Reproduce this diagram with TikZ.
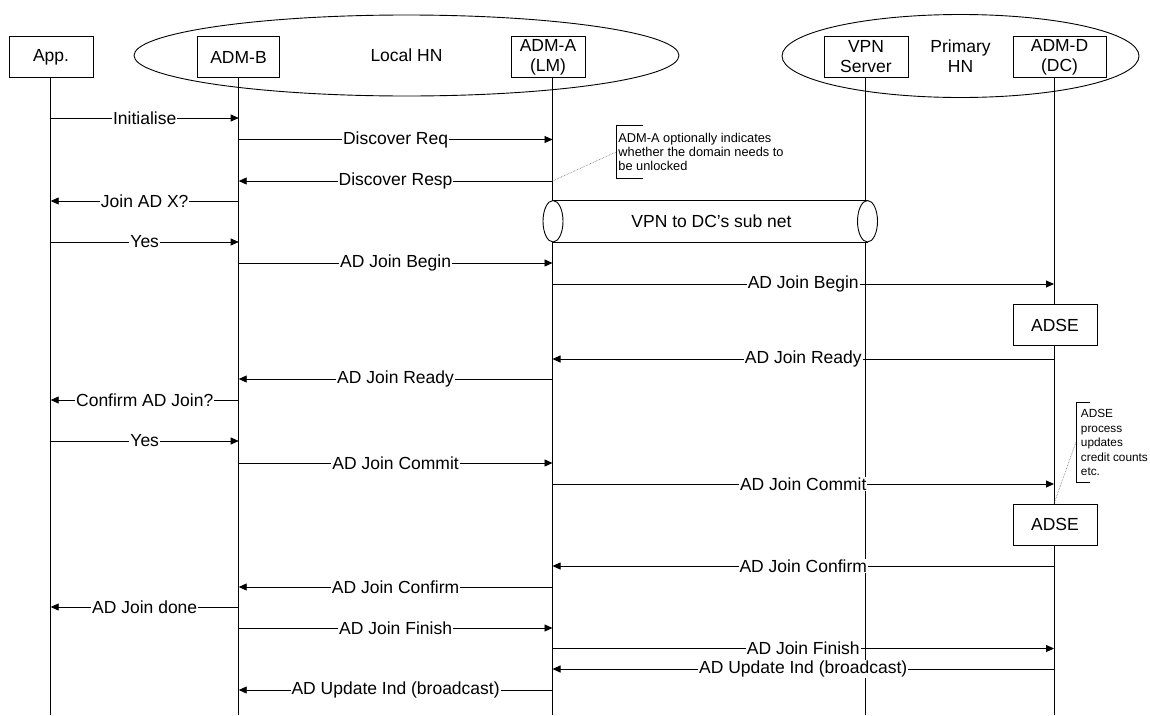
\documentclass[tikz,border=0pt]{standalone}
\usepackage{fontspec}
\setmainfont{Liberation Sans}
\usetikzlibrary{arrows.meta,shapes.geometric}
\newcommand\lblfont{\fontsize{17.5}{20}\selectfont}
\newcommand\notefont{\fontsize{12.8}{14}\selectfont}
\newcommand\notefontb{\fontsize{11.8}{14.5}\selectfont}
\begin{document}
\begin{tikzpicture}[x=1pt,y=-1pt, line width=0.9pt,
  every node/.style={font=\lblfont},
  actor/.style={draw, fill=white, inner sep=0pt, minimum height=41.5pt, align=center},
  group/.style={draw, ellipse, inner sep=0pt, align=center},
  msg/.style={-{Triangle[length=8pt,width=7pt]}},
  lbl/.style={fill=white, inner xsep=1pt, inner ysep=0.5pt},
  link/.style={densely dotted, black!60, line width=0.6pt},
  note/.style={font=\notefont, align=left, inner sep=0pt, anchor=north west}]
\useasboundingbox (0,0) rectangle (1150,715);
% groups
\node[group, minimum width=545pt, minimum height=81pt] (localhn) at (406.5,55.5) {Local HN};
\node[group, minimum width=357pt, minimum height=83pt] (primaryhn) at (960.5,56) {Primary\\HN};
% lifeline positions
\coordinate (xA) at (50.7,0);
\coordinate (xB) at (238.7,0);
\coordinate (xL) at (552.5,0);
\coordinate (xV) at (865.7,0);
\coordinate (xD) at (1054,0);
% actors
\node[actor, minimum width=84pt] (app) at (51,57) {App.};
\node[actor, minimum width=82pt] (admb) at (238.5,57) {ADM-B};
\node[actor, minimum width=74pt] (adma) at (548,57) {ADM-A\\(LM)};
\node[actor, minimum width=84pt] (vpns) at (866,57) {VPN\\Server};
\node[actor, minimum width=93pt] (admd) at (1059.5,57) {ADM-D\\(DC)};
% lifelines
\draw (xA |- app.south) -- (xA |- 0,715);
\draw (xB |- admb.south) -- (xB |- 0,715);
\draw (xL |- adma.south) -- (xL |- 0,715);
\draw (xV |- vpns.south) -- (xV |- 0,715);
\draw (xD |- admd.south) -- (xD |- 0,715);
% VPN tunnel
\fill[white] (553,200.5) rectangle (867.5,242);
\draw (553,200.5) -- (867.5,200.5) (553,242) -- (867.5,242);
\draw[fill=white] (553,221.25) ellipse [x radius=10pt, y radius=20.75pt];
\draw[fill=white] (867.5,221.25) ellipse [x radius=10pt, y radius=20.75pt];
\node (tunnel) at (711.5,221.5) {VPN to DC’s sub net};
% ADSE boxes
\node[actor, minimum width=84pt] (adse1) at (1055,325) {ADSE};
\node[actor, minimum width=84pt, minimum height=41pt] (adse2) at (1055,524.5) {ADSE};
% messages
\foreach \f/\t/\y/\l in {
  xA/xB/118/Initialise,
  xB/xL/139.5/Discover Req,
  xL/xB/181/Discover Resp,
  xB/xA/201/Join AD X?,
  xA/xB/242/Yes,
  xB/xL/263/AD Join Begin,
  xL/xD/284/AD Join Begin,
  xD/xL/359/AD Join Ready,
  xL/xB/379/AD Join Ready,
  xB/xA/400/Confirm AD Join?,
  xA/xB/441/Yes,
  xB/xL/463/AD Join Commit,
  xL/xD/484/AD Join Commit,
  xD/xL/566/AD Join Confirm,
  xL/xB/587/AD Join Confirm,
  xB/xA/607/AD Join done,
  xB/xL/628/AD Join Finish,
  xL/xD/648.5/AD Join Finish,
  xD/xL/669/AD Update Ind (broadcast),
  xL/xB/690/AD Update Ind (broadcast)}
  \draw[msg] (\f |- 0,\y) -- (\t |- 0,\y) node[midway, lbl] {\l};
% notes
\node[note] (note1) at (618,133) {ADM-A optionally indicates\\whether the domain needs to\\be unlocked};
\draw (643,125) -- (616,125) -- (616,178) -- (643,178);
\draw[link] (xL |- 0,181) -- (616,152);
\node[note, font=\notefontb] (note2) at (1080.5,409) {ADSE\\process\\updates\\credit counts\\etc.};
\draw (1090,402) -- (1076,402) -- (1076,482) -- (1090,482);
\draw[link] (xD |- adse2.north) -- (1076,442);
\end{tikzpicture}
\end{document}
